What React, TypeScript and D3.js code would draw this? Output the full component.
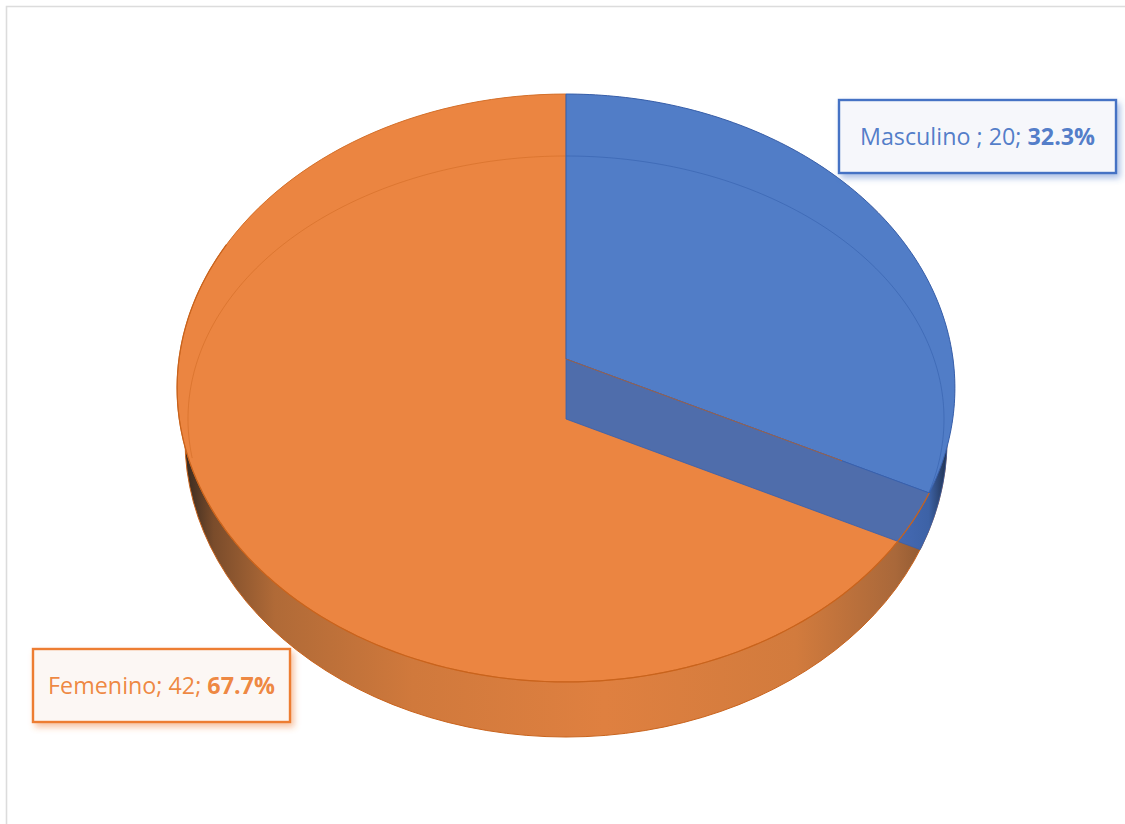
import * as d3 from "d3";

const categories = ["Masculino ", "Femenino"];
const values = [20, 42];
const sliceColors = ["#517dc7", "#eb8541"];
const edgeColors = ["#3560ae", "#c9631c"];
const labelColors = ["#4472c4", "#ed7d31"];
const labelFills = ["#f6f7fb", "#fcf7f4"];

const width = 1125;
const height = 824;

// perspective disc: the pie centre sits above the middle of the ellipse
const apex = { x: 566, y: 359 };
const depth = 60;
const scaleX = 387;
const scaleY = 291.1;
const persp = 0.0986;

const project = (a: number): [number, number] => {
  const u = Math.sin(a);
  const v = -Math.cos(a);
  const w = 1 - persp * v;
  return [apex.x + (scaleX * u) / w, apex.y + (scaleY * v) / w];
};

const ellipsePoint = (cx: number, cy: number, rx: number, ry: number) => (a: number): [number, number] => [
  cx + rx * Math.sin(a),
  cy - ry * Math.cos(a),
];
const inner = ellipsePoint(566, 419, 378, 263);
const wall = ellipsePoint(566, 440, 381, 297);

const line = d3.line();
const sweep = (from: number, to: number, fn: (a: number) => [number, number]) =>
  d3.range(0, 121).map((i) => fn(from + ((to - from) * i) / 120));

const pie = d3.pie<number>().sort(null)(values);
const [blue, orange] = pie;
const fullCircle = sweep(0, Math.PI * 2, project);
const wallCircle = sweep(0, Math.PI * 2, wall);

const cut = blue.endAngle;
const cutPt = project(cut);
const slope = (cutPt[1] - apex.y) / (cutPt[0] - apex.x);
const lowerApex: [number, number] = [apex.x, apex.y + depth];
const offRay = (p: [number, number]) => Math.abs(p[1] - lowerApex[1] - slope * (p[0] - lowerApex[0]));

// where the dropped cut line meets the rim and the outer wall
const scan = d3.range(-0.6, 0.8, 0.001).map((d) => cut + d);
const rimAngle = d3.least(scan, (a) => offRay(project(a))) ?? cut;
const wallAngle = d3.least(scan, (a) => offRay(wall(a))) ?? cut;

const bluePath = line([[apex.x, apex.y], ...sweep(blue.startAngle, blue.endAngle, project)]) + "Z";
const orangePath = line([[apex.x, apex.y], ...sweep(orange.startAngle, orange.endAngle, project)]) + "Z";
const bandPath = line([[apex.x, apex.y], ...sweep(cut, rimAngle, project), lowerApex]) + "Z";
const blueWall = line([...sweep(Math.PI / 2, wallAngle, wall), ...sweep(rimAngle, cut, project)]) + "Z";
const frontEdge = line(sweep(cut, Math.PI * 2 - 1.15, project));
const innerOrange = sweep(-1.72, 0, inner);
const innerBlue = sweep(0, 1.92, inner);
const seamEnd: [number, number] = [apex.x + (cutPt[0] - apex.x) * 0.76, apex.y + (cutPt[1] - apex.y) * 0.76];

const labelBoxes = [
  { x: 839, y: 100, w: 277, h: 73 },
  { x: 33, y: 649, w: 257, h: 73 },
];
const total = d3.sum(values);
const fmt = d3.format(".1%");

export default function App() {
  return (
    <svg width={width} height={height} style={{ position: "absolute", left: 0, top: 0, background: "#fff" }}>
      <defs>
        <linearGradient id="wallOrange" gradientUnits="userSpaceOnUse" x1={183} x2={949} y1={0} y2={0}>
          <stop offset="0" stopColor="#33271f" />
          <stop offset="0.04" stopColor="#7a4c2b" />
          <stop offset="0.12" stopColor="#b06a37" />
          <stop offset="0.3" stopColor="#d0793c" />
          <stop offset="0.55" stopColor="#df8040" />
          <stop offset="0.8" stopColor="#d27b3d" />
          <stop offset="0.93" stopColor="#a9683a" />
          <stop offset="1" stopColor="#7d4f2c" />
        </linearGradient>
        <linearGradient id="wallBlue" gradientUnits="userSpaceOnUse" x1={900} x2={948} y1={0} y2={0}>
          <stop offset="0" stopColor="#4469b3" />
          <stop offset="0.6" stopColor="#3d62a6" />
          <stop offset="1" stopColor="#1f2f4c" />
        </linearGradient>
        <filter id="shadowBlue" x="-10%" y="-20%" width="120%" height="150%">
          <feDropShadow dx="3" dy="4" stdDeviation="3" floodColor="#4472c4" floodOpacity="0.45" />
        </filter>
        <filter id="shadowOrange" x="-10%" y="-20%" width="120%" height="150%">
          <feDropShadow dx="3" dy="4" stdDeviation="3" floodColor="#ed7d31" floodOpacity="0.45" />
        </filter>
      </defs>

      <path d="M6.5 824V6.5H1125" fill="none" stroke="#dcdcdc" strokeWidth={1.6} />

      <path d={line(wallCircle) + "Z"} fill="url(#wallOrange)" stroke="#c9631c" strokeWidth={1} />
      <path d={blueWall} fill="url(#wallBlue)" stroke="#3560ae" strokeWidth={0.8} />

      <path d={line(fullCircle) + "Z"} fill={sliceColors[1]} />
      <path d={orangePath} fill={sliceColors[1]} stroke="#d4712c" strokeWidth={1} />
      <path d={line(innerOrange) ?? ""} fill="none" stroke={edgeColors[1]} strokeOpacity={0.45} strokeWidth={1} />

      <path d={bluePath} fill={sliceColors[0]} stroke={edgeColors[0]} strokeWidth={1} />
      <path d={line(innerBlue) ?? ""} fill="none" stroke={edgeColors[0]} strokeOpacity={0.6} strokeWidth={1} />
      <path d={bandPath} fill="#4f6dab" stroke={edgeColors[0]} strokeWidth={0.8} />
      <path d={line([[apex.x, apex.y], seamEnd]) ?? ""} fill="none" stroke={edgeColors[1]} strokeOpacity={0.7} strokeWidth={1} />
      <path d={frontEdge ?? ""} fill="none" stroke={edgeColors[1]} strokeWidth={1.2} />

      {categories.map((c, i) => {
        const b = labelBoxes[i];
        return (
          <g key={c}>
            <rect
              x={b.x}
              y={b.y}
              width={b.w}
              height={b.h}
              fill={labelFills[i]}
              stroke={labelColors[i]}
              strokeWidth={2.4}
              filter={i === 0 ? "url(#shadowBlue)" : "url(#shadowOrange)"}
            />
            <text
              x={b.x + b.w / 2}
              y={b.y + b.h / 2 + 8}
              textAnchor="middle"
              fontFamily="'Open Sans', sans-serif"
              fontSize={23.3}
              fill={labelColors[i]}
              fillOpacity={0.92}
            >
              {`${c}; ${values[i]}; `}
              <tspan fontWeight={700}>{fmt(values[i] / total)}</tspan>
            </text>
          </g>
        );
      })}
    </svg>
  );
}
